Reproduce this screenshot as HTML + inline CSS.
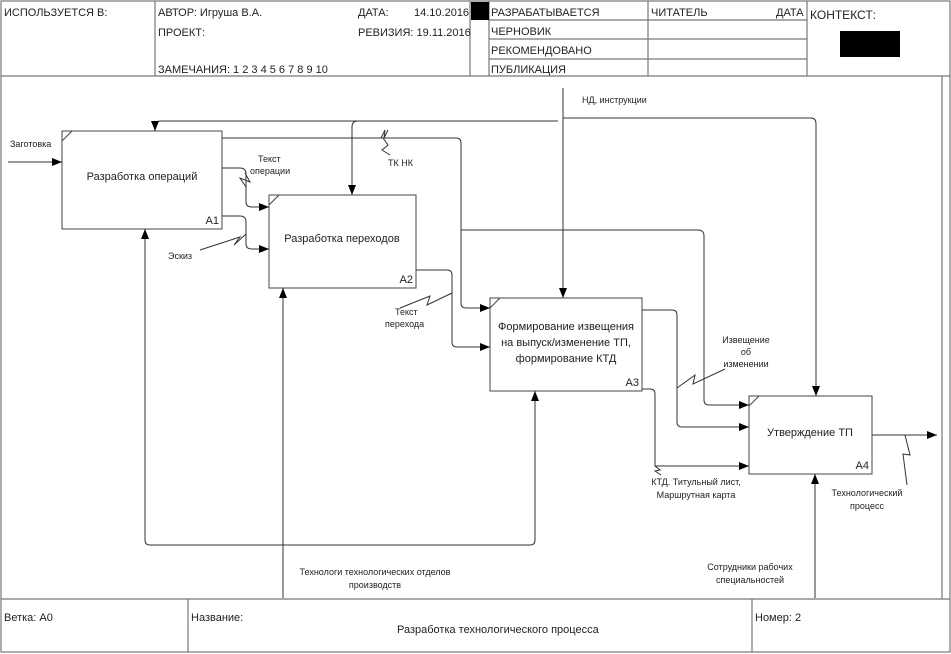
<!DOCTYPE html>
<html><head><meta charset="utf-8"><style>
body{margin:0;background:#fff}
svg{display:block}
text{font-family:"Liberation Sans","Noto Sans CJK SC",sans-serif;fill:#222}
</style></head><body>
<svg width="951" height="654" viewBox="0 0 951 654" xmlns="http://www.w3.org/2000/svg">
<defs><marker id="a" markerWidth="10" markerHeight="8" refX="10" refY="4" orient="auto" markerUnits="userSpaceOnUse"><path d="M0,0 L10,4 L0,8 z" fill="#000"/></marker></defs>
<rect x="0" y="0" width="951" height="654" fill="#fff"/>
<g stroke="#777" stroke-width="1.2" fill="none">
<rect x="1" y="1" width="949" height="651"/>
<line x1="1" y1="76" x2="950" y2="76"/>
<line x1="155" y1="1" x2="155" y2="76"/>
<line x1="470" y1="1" x2="470" y2="76"/>
<line x1="489" y1="1" x2="489" y2="76"/>
<line x1="648" y1="1" x2="648" y2="76"/>
<line x1="807" y1="1" x2="807" y2="76"/>
<line x1="489" y1="20" x2="807" y2="20"/>
<line x1="489" y1="39" x2="807" y2="39"/>
<line x1="489" y1="59" x2="807" y2="59"/>
<line x1="942" y1="76" x2="942" y2="599"/>
<line x1="1" y1="599" x2="950" y2="599"/>
<line x1="188" y1="599" x2="188" y2="652"/>
<line x1="752" y1="599" x2="752" y2="652"/>
</g>
<rect x="471" y="2" width="18" height="18" fill="#000"/>
<rect x="840" y="31" width="60" height="26" fill="#000"/>
<g font-size="11">
<text x="4" y="16">ИСПОЛЬЗУЕТСЯ В:</text>
<text x="158" y="16">АВТОР: Игруша В.А.</text>
<text x="158" y="36">ПРОЕКТ:</text>
<text x="158" y="73">ЗАМЕЧАНИЯ: 1 2 3 4 5 6 7 8 9 10</text>
<text x="358" y="16">ДАТА:</text>
<text x="414" y="16">14.10.2016</text>
<text x="358" y="36">РЕВИЗИЯ: 19.11.2016</text>
<text x="491" y="16">РАЗРАБАТЫВАЕТСЯ</text>
<text x="491" y="35">ЧЕРНОВИК</text>
<text x="491" y="54">РЕКОМЕНДОВАНО</text>
<text x="491" y="73">ПУБЛИКАЦИЯ</text>
<text x="651" y="16">ЧИТАТЕЛЬ</text>
<text x="776" y="16">ДАТА</text>
<text x="810" y="19" font-size="12">КОНТЕКСТ:</text>
<text x="4" y="621">Ветка: A0</text>
<text x="191" y="621">Название:</text>
<text x="397" y="633">Разработка технологического процесса</text>
<text x="755" y="621">Номер: 2</text>
</g>
<g stroke="#444" stroke-width="1" fill="#fff">
<rect x="62" y="131" width="160" height="98"/>
<rect x="269" y="195" width="147" height="93"/>
<rect x="490" y="298" width="152" height="93"/>
<rect x="749" y="396" width="123" height="78"/>
<path d="M62,141 L72,131 M269,205 L279,195 M490,308 L500,298 M749,406 L759,396" fill="none"/>
</g>
<g font-size="11" text-anchor="middle">
<text x="142" y="180">Разработка операций</text>
<text x="342" y="242">Разработка переходов</text>
<text x="566" y="330">Формирование извещения</text>
<text x="566" y="346">на выпуск/изменение ТП,</text>
<text x="566" y="362">формирование КТД</text>
<text x="810" y="436">Утверждение ТП</text>
</g>
<g font-size="11" text-anchor="end">
<text x="219" y="224">A1</text><text x="413" y="283">A2</text><text x="639" y="386">A3</text><text x="869" y="469">A4</text>
</g>
<g stroke="#333" stroke-width="1" fill="none">
<line x1="8" y1="162" x2="62" y2="162" marker-end="url(#a)"/>
<line x1="563" y1="88" x2="563" y2="298" marker-end="url(#a)"/>
<path d="M558,121 L160,121 Q155,121 155,126 L155,131" marker-end="url(#a)"/>
<path d="M358,121 Q352,121 352,127 L352,195" marker-end="url(#a)"/>
<path d="M563,118 L811,118 Q816,118 816,124 L816,396" marker-end="url(#a)"/>
<path d="M222,138 L456,138 Q461,138 461,143 L461,303 Q461,308 466,308 L490,308" marker-end="url(#a)"/>
<path d="M461,230 L698,230 Q704,230 704,236 L704,400 Q704,405 709,405 L749,405" marker-end="url(#a)"/>
<path d="M642,310 L672,310 Q677,310 677,315 L677,422 Q677,427 682,427 L749,427" marker-end="url(#a)"/>
<path d="M642,389 L650,389 Q655,389 655,394 L655,466 L749,466" marker-end="url(#a)"/>
<path d="M416,270 L447,270 Q452,270 452,275 L452,342 Q452,347 457,347 L490,347" marker-end="url(#a)"/>
<path d="M222,168 L240,168 Q246,168 246,174 L246,202 Q246,207 252,207 L269,207" marker-end="url(#a)"/>
<path d="M222,216 L240,216 Q246,216 246,222 L246,244 Q246,249 252,249 L269,249" marker-end="url(#a)"/>
<line x1="872" y1="435" x2="937" y2="435" marker-end="url(#a)"/>
<path d="M145,540 Q145,545 150,545 L530,545 Q535,545 535,540"/>
<line x1="145" y1="540" x2="145" y2="229" marker-end="url(#a)"/>
<line x1="283" y1="598" x2="283" y2="288" marker-end="url(#a)"/>
<line x1="535" y1="540" x2="535" y2="391" marker-end="url(#a)"/>
<line x1="815" y1="598" x2="815" y2="474" marker-end="url(#a)"/>
<path d="M381,138 L385,130 L384,138 L388,130"/>
<path d="M246,187 L240,178 L250,182 L245,173"/>
<path d="M200,250 L240,237 L234,245 L246,234"/>
<path d="M400,308 L430,296 L427,305 L452,293"/>
<path d="M677,388 L695,375 L693,384 L725,369"/>
<path d="M655,466 L660,470 L655,471 L661,475"/>
<path d="M905,435 L910,455 L903,454 L907,485"/>
<path d="M390,155 L382,150 L388,145 L383,138"/>
</g>
<g font-size="9">
<text x="10" y="147">Заготовка</text>
<text x="582" y="103">НД, инструкции</text>
<text x="258" y="162">Текст</text><text x="250" y="174">операции</text>
<text x="388" y="166">ТК НК</text>
<text x="168" y="259">Эскиз</text>
<text x="395" y="315">Текст</text><text x="385" y="327">перехода</text>
<text x="746" y="343" text-anchor="middle">Извещение</text><text x="746" y="355" text-anchor="middle">об</text><text x="746" y="367" text-anchor="middle">изменении</text>
<text x="696" y="485" text-anchor="middle">КТД. Титульный лист,</text><text x="696" y="498" text-anchor="middle">Маршрутная карта</text>
<text x="867" y="496" text-anchor="middle">Технологический</text><text x="867" y="509" text-anchor="middle">процесс</text>
<text x="375" y="575" text-anchor="middle">Технологи технологических отделов</text><text x="375" y="588" text-anchor="middle">производств</text>
<text x="750" y="570" text-anchor="middle">Сотрудники рабочих</text><text x="750" y="583" text-anchor="middle">специальностей</text>
</g>
</svg>
</body></html>
